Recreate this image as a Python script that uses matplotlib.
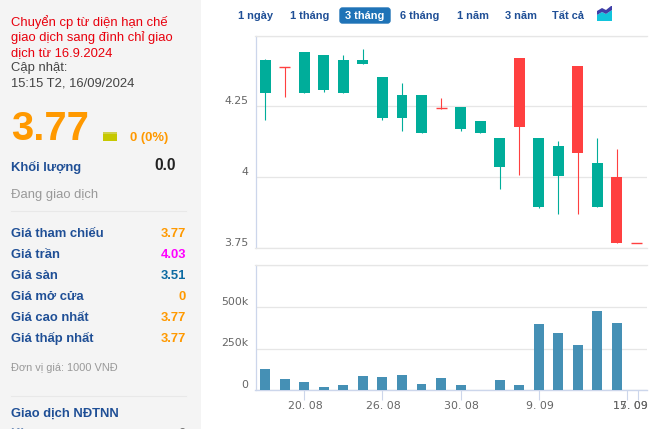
import matplotlib
matplotlib.use("Agg")
import matplotlib.pyplot as plt
from matplotlib.patches import Rectangle, FancyBboxPatch, Polygon
from matplotlib.transforms import ScaledTranslation

W, H = 656, 429
plt.rcParams['font.family'] = ['Liberation Sans', 'DejaVu Sans']

# ---- data ----
opens  = [4.296, 4.390, 4.296, 4.307, 4.296, 4.399, 4.208, 4.208, 4.158, 4.245,
          4.169, 4.158, 4.037, 4.420, 3.896, 4.005, 4.391, 3.896, 4.001, 3.770]
closes = [4.412, 4.390, 4.441, 4.430, 4.412, 4.412, 4.352, 4.292, 4.292, 4.245,
          4.249, 4.200, 4.139, 4.179, 4.139, 4.111, 4.086, 4.051, 3.767, 3.770]
highs  = [4.418, 4.390, 4.441, 4.430, 4.430, 4.451, 4.352, 4.331, 4.292, 4.281,
          4.249, 4.200, 4.139, 4.420, 4.139, 4.129, 4.391, 4.139, 4.100, 3.770]
lows   = [4.201, 4.282, 4.296, 4.300, 4.296, 4.399, 4.201, 4.162, 4.158, 4.242,
          4.162, 4.158, 3.959, 4.008, 3.891, 3.870, 3.870, 3.896, 3.767, 3.770]
up     = [1, 0, 1, 1, 1, 1, 1, 1, 1, 0, 1, 1, 1, 0, 1, 1, 0, 1, 0, 0]
volumes = [128e3, 68e3, 50e3, 20e3, 32e3, 86e3, 80e3, 92e3, 38e3, 74e3,
           32e3, 0, 62e3, 32e3, 398e3, 344e3, 272e3, 476e3, 404e3, 0]
price_ticks = [3.75, 4.0, 4.25, 4.5]
price_labels = ['3.75', '4', '4.25', '']
vol_ticks = [0, 250e3, 500e3, 750e3]
vol_labels = ['0', '250k', '500k', '']
date_ticks = [2, 6, 10, 14, 18.53, 19.09]
date_labels = ['20. 08', '26. 08', '30. 08', '9. 09', '15. 09', '17. 09']
tabs = ['1 ngày', '1 tháng', '3 tháng', '6 tháng', '1 năm', '3 năm', 'Tất cả']
rows = ['Giá tham chiếu', 'Giá trần', 'Giá sàn', 'Giá mở cửa', 'Giá cao nhất', 'Giá thấp nhất']
row_values = ['3.77', '4.03', '3.51', '0', '3.77', '3.77']
row_colors = ['#ff9900', '#ff00ff', '#0b6aa2', '#ff9900', '#ff9900', '#ff9900']

GREEN, RED, BLUE = '#00ad9a', '#ff4040', '#4590b5'
NAVY = '#1f4f96'
GRID, AXIS, TICKTXT = '#e6e6e6', '#ccd6eb', '#666666'

fig = plt.figure(figsize=(W / 100, H / 100), dpi=100, facecolor='white')
def px(pt): return pt * 72 / 100

# overlay in pixel coordinates
bg = fig.add_axes([0, 0, 1, 1], zorder=0)
bg.set_xlim(0, W); bg.set_ylim(H, 0); bg.axis('off')
bg.add_patch(Rectangle((0, 0), 201, H, fc='#f4f4f4', ec='none'))

def T(x, y, s, size, color, weight='normal', ha='left', **kw):
    bg.text(x, y, s, fontsize=px(size), color=color, fontweight=weight,
            ha=ha, va='baseline', clip_on=False, **kw)

for y, s in zip([26, 41, 56], ['Chuyển cp từ diện hạn chế', 'giao dịch sang đình chỉ giao', 'dịch từ 16.9.2024']):
    T(11, y, s, 13, '#e8000d')
T(11, 71, 'Cập nhật:', 13, '#444444')
T(11, 86, '15:15 T2, 16/09/2024', 13, '#444444')
T(11, 140, '3.77', 40, '#ff9900', 'bold')
bg.add_patch(Rectangle((103, 132), 14, 9, fc='#c6c800', ec='none'))
bg.add_patch(Rectangle((103, 132), 14, 2, fc='#d0d24a', ec='none'))
T(130, 140.5, '0 (0%)', 13, '#ff9900', 'bold')
T(11, 171, 'Khối lượng', 13, NAVY, 'bold')
T(176, 170, '0.0', 15.5, '#222222', 'bold', ha='right')
T(11, 198, 'Đang giao dịch', 13, '#999999')
bg.plot([11, 186], [211, 211], color='#e8e8e8', lw=0.8)
for i, (r, v, c) in enumerate(zip(rows, row_values, row_colors)):
    y = 236.7 + 21 * i
    T(11, y, r, 13, NAVY, 'bold')
    T(186, y, v, 13, c, 'bold', ha='right')
T(11, 371, 'Đơn vị giá: 1000 VNĐ', 11, '#999999')
bg.plot([11, 186], [396.3, 396.3], color='#e8e8e8', lw=0.8)
T(11, 417, 'Giao dịch NĐTNN', 13, NAVY, 'bold')
T(11, 437, 'KL mua', 13, NAVY, 'bold', alpha=0.6)
T(186, 437, '0', 13, '#777777', 'bold', ha='right')

# tabs
bg.add_patch(FancyBboxPatch((340, 8), 50, 15, boxstyle='round,pad=0,rounding_size=2.5',
                            fc='#1f73b7', ec='#1f73b7', lw=1))
tab_x = [256, 309.7, 365, 420, 472.5, 520.5, 568]
for x, s in zip(tab_x, tabs):
    T(x, 19.3, s, 11, 'white' if s == '3 tháng' else NAVY, 'bold', ha='center')
# icon
bg.add_patch(Polygon([(597, 21), (597, 15), (602, 12), (606, 14), (612, 10), (612, 21)], fc='#12c4dc', ec='none'))
bg.add_patch(Polygon([(597, 15), (597, 11), (602, 8), (606, 10), (611, 6), (612, 6), (612, 10), (606, 14), (602, 12)], fc='#3f3fa8', ec='none'))

# ---- price axes ----
L, R = 255.5, 646.7
def axes_px(top, bottom):
    return fig.add_axes([L / W, 1 - bottom / H, (R - L) / W, (bottom - top) / H], zorder=2)

def style(ax):
    ax.patch.set_alpha(0)
    ax.set_xlim(-0.5, 19.53)
    for s in ['right']:
        ax.spines[s].set_visible(False)
    for s in ['top', 'bottom']:
        ax.spines[s].set_color(GRID)
        ax.spines[s].set_linewidth(0.9)
    ax.spines['left'].set_color(AXIS)
    ax.spines['left'].set_linewidth(0.9)
    ax.grid(axis='y', color=GRID, lw=0.9)
    ax.set_axisbelow(True)
    ax.tick_params(axis='y', length=0, pad=5)
    for lab in ax.get_yticklabels():
        lab.set_fontfamily('DejaVu Sans')
        lab.set_fontsize(7.9)
        lab.set_color(TICKTXT)
        lab.set_va('baseline')
        lab.set_transform(lab.get_transform() + ScaledTranslation(0, 2.3 / 100, fig.dpi_scale_trans))

ax = axes_px(35.5, 248.3)
ax.set_ylim(3.75, 4.5)
ax.set_yticks(price_ticks, price_labels)
ax.set_xticks([])
style(ax)
BW = 0.56
for i, (o, c, h, l, u) in enumerate(zip(opens, closes, highs, lows, up)):
    col = GREEN if u else RED
    ax.vlines(i, l, h, color=col, lw=0.8, zorder=3)
    if o == c:
        ax.hlines(o, i - BW / 2, i + BW / 2, color=col, lw=1.0, zorder=4)
    else:
        ax.bar(i, abs(c - o), BW, bottom=min(o, c), color=col, lw=0, zorder=4)

# ---- volume axes ----
av = axes_px(265.3, 390.3)
av.set_ylim(0, 750e3)
av.set_yticks(vol_ticks, vol_labels)
av.bar(range(len(volumes)), volumes, 0.51, color=BLUE, lw=0, zorder=3)
style(av)
av.spines['bottom'].set_color(AXIS)
av.spines['bottom'].set_linewidth(1.0)
av.set_xticks(date_ticks, date_labels)
av.tick_params(axis='x', length=px(10), width=0.8, color=AXIS, pad=px(1))
shift = [1, 1, 1, 1, 3.2, -7.8]
for lab, dx in zip(av.get_xticklabels(), shift):
    lab.set_fontfamily('DejaVu Sans')
    lab.set_fontsize(7.9)
    lab.set_color(TICKTXT)
    lab.set_transform(lab.get_transform() + ScaledTranslation(dx / 100, 0, fig.dpi_scale_trans))

fig.savefig('out.png', dpi=100, facecolor='white')
